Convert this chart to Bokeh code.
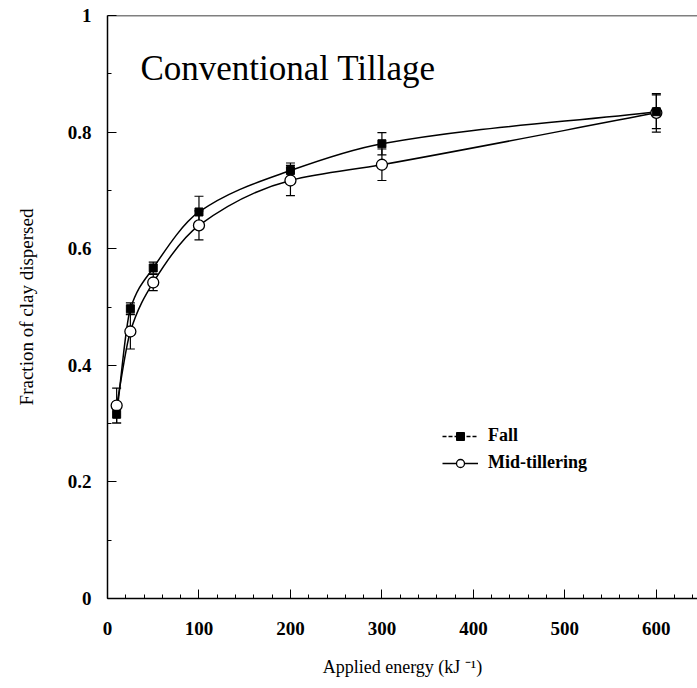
import numpy as np
from bokeh.plotting import figure
from bokeh.models import (Range1d, FixedTicker, Whisker, TeeHead, ColumnDataSource,
                          Label, Legend, LegendItem, Span, CustomJSTickFormatter)
from bokeh.embed import file_html
from bokeh.resources import INLINE

# ---- data ----
energy = [10, 25, 50, 100, 200, 300, 600]
fall = [0.316, 0.497, 0.567, 0.663, 0.734, 0.780, 0.835]
fall_err = [0.015, 0.010, 0.010, 0.027, 0.013, 0.019, 0.029]
mid = [0.331, 0.458, 0.542, 0.640, 0.717, 0.744, 0.833]
mid_err = [0.030, 0.030, 0.014, 0.025, 0.026, 0.027, 0.033]

x_ticks = [0, 100, 200, 300, 400, 500, 600]
x_minor = list(range(0, 660, 20))
y_ticks = [0, 0.2, 0.4, 0.6, 0.8, 1]
y_minor = [0.1, 0.3, 0.5, 0.7, 0.9]

title_text = "Conventional Tillage"
x_label = "Applied energy (kJ \u207b\u00b9)"
y_label = "Fraction of clay dispersed"
series_names = ["Fall", "Mid-tillering"]

SERIF = "Liberation Serif"

p = figure(width=697, height=688, output_backend="svg", toolbar_location=None,
           x_range=Range1d(0, 645), y_range=Range1d(0, 1),
           min_border_left=107, min_border_right=0, min_border_top=15,
           min_border_bottom=90)
p.background_fill_color = "white"
p.border_fill_color = "white"
p.outline_line_color = None
p.grid.visible = False

# top border line
p.add_layout(Span(location=1, dimension="width", line_color="black", line_width=1.3))

for ax in (p.xaxis[0], p.yaxis[0]):
    ax.axis_line_color = "black"
    ax.axis_line_width = 1.5
    ax.major_tick_in = 9
    ax.major_tick_out = 0
    ax.minor_tick_in = 4
    ax.minor_tick_out = 0
    ax.major_tick_line_color = "black"
    ax.minor_tick_line_color = "black"
    ax.major_label_text_font = SERIF
    ax.major_label_text_font_style = "bold"
    ax.major_label_text_font_size = "19px"
    ax.major_label_text_color = "black"
    ax.axis_label_text_font = SERIF
    ax.axis_label_text_font_style = "normal"
    ax.axis_label_text_color = "black"

p.xaxis.ticker = FixedTicker(ticks=x_ticks, minor_ticks=x_minor)
p.yaxis.ticker = FixedTicker(ticks=y_ticks, minor_ticks=y_minor)
p.yaxis.formatter = CustomJSTickFormatter(code="return String(Math.round(tick*10)/10);")
p.xaxis.major_label_standoff = 23
p.yaxis.major_label_standoff = 16
p.xaxis.axis_label = x_label
p.yaxis.axis_label = y_label
p.xaxis.axis_label_text_font_size = "18px"
p.yaxis.axis_label_text_font_size = "19px"
p.xaxis.axis_label_standoff = 19
p.yaxis.axis_label_standoff = 28


def hermite_bezier(xs, ys):
    xs = np.asarray(xs, float)
    ys = np.asarray(ys, float)
    h = np.diff(xs)
    d = np.diff(ys) / h
    n = len(xs)
    m = np.zeros(n)
    m[0] = d[0]
    m[-1] = d[-1]
    for k in range(1, n - 1):
        if d[k - 1] * d[k] <= 0:
            m[k] = 0.0
        else:
            w1 = 2 * h[k] + h[k - 1]
            w2 = h[k] + 2 * h[k - 1]
            m[k] = (w1 + w2) / (w1 / d[k - 1] + w2 / d[k])
    return dict(
        x0=xs[:-1], y0=ys[:-1], x1=xs[1:], y1=ys[1:],
        cx0=xs[:-1] + h / 3, cy0=ys[:-1] + m[:-1] * h / 3,
        cx1=xs[1:] - h / 3, cy1=ys[1:] - m[1:] * h / 3,
    )


for ys in (fall, mid):
    src = ColumnDataSource(hermite_bezier(energy, ys))
    p.bezier(x0="x0", y0="y0", x1="x1", y1="y1", cx0="cx0", cy0="cy0",
             cx1="cx1", cy1="cy1", source=src, line_color="black", line_width=1.5)

# error bars
for ys, es in ((mid, mid_err), (fall, fall_err)):
    src = ColumnDataSource(dict(x=energy,
                                lower=[a - b for a, b in zip(ys, es)],
                                upper=[a + b for a, b in zip(ys, es)]))
    w = Whisker(base="x", lower="lower", upper="upper", source=src, dimension="height",
                line_color="black", line_width=1.2,
                upper_head=TeeHead(size=9, line_color="black", line_width=1.2),
                lower_head=TeeHead(size=9, line_color="black", line_width=1.2))
    p.add_layout(w)

mid_r = p.scatter(energy, mid, marker="circle", size=11, fill_color="white",
                  line_color="black", line_width=1.3)
fall_r = p.scatter(energy, fall, marker="square", size=8, fill_color="black",
                   line_color="black")

# legend-only line styles (no visible data)
fall_leg_line = p.line([np.nan, np.nan], [np.nan, np.nan], line_color="black",
                       line_width=1.3, line_dash="4 2")
mid_leg_line = p.line([np.nan, np.nan], [np.nan, np.nan], line_color="black",
                      line_width=1.3)

legend = Legend(items=[
    LegendItem(label=series_names[0], renderers=[fall_leg_line, fall_r]),
    LegendItem(label=series_names[1], renderers=[mid_leg_line, mid_r]),
], location=(335, 125))
legend.background_fill_alpha = 0
legend.border_line_color = None
legend.padding = 0
legend.margin = 0
legend.spacing = 6
legend.glyph_width = 36
legend.glyph_height = 20
legend.label_standoff = 10
legend.label_text_font = SERIF
legend.label_text_font_style = "bold"
legend.label_text_font_size = "18px"
legend.label_text_color = "black"
p.add_layout(legend)

p.add_layout(Label(x=36, y=0.909, text=title_text, text_font=SERIF,
                   text_font_size="35px", text_color="black",
                   text_baseline="alphabetic", text_align="left"))

open("out.html", "w").write(file_html(p, INLINE))
